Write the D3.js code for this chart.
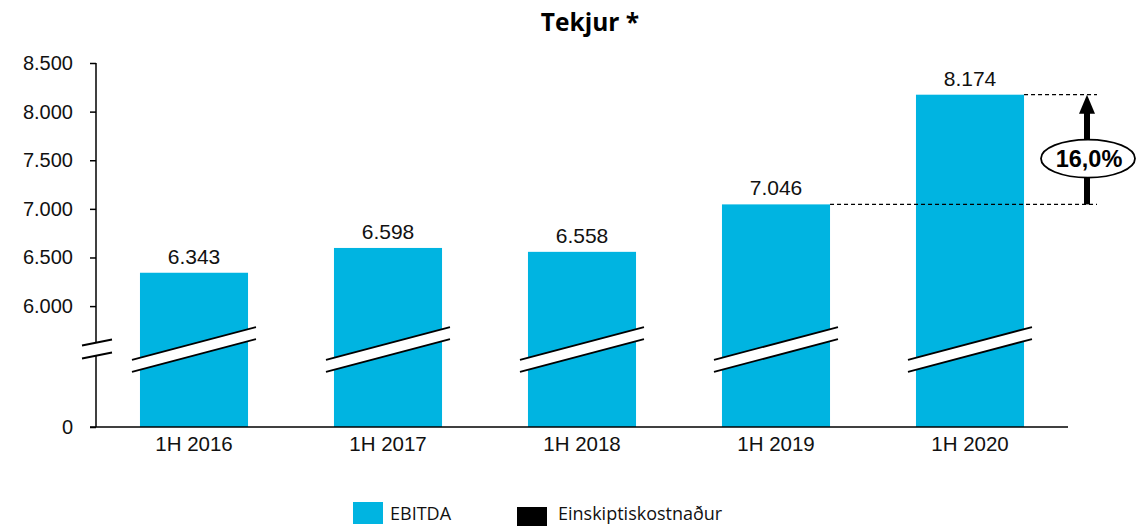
<!DOCTYPE html>
<html>
<head>
<meta charset="utf-8">
<script src="https://cdn.jsdelivr.net/npm/d3@7"></script>
<style>
  body { margin: 0; background: #fff; }
  svg { display: block; }
</style>
</head>
<body>
<svg width="1138" height="526"></svg>
<script>
// data
var periods = ["1H 2016", "1H 2017", "1H 2018", "1H 2019", "1H 2020"];
var revenue = [6343, 6598, 6558, 7046, 8174];
var yTicks = [0, 6000, 6500, 7000, 7500, 8000, 8500];
var growthLabel = "16,0%";
var legendNames = ["EBITDA", "Einskiptiskostnaður"];
var legendColors = ["#00b4e1", "#000000"];

var fmt = function(v) { return d3.format(",")(v).replace(/,/g, "."); };
var arial = "Arial, 'Liberation Sans', sans-serif";

var svg = d3.select("svg");

// broken axis: 0..5600 squeezed, 5600..8500 linear
var y = d3.scaleLinear()
    .domain([0, 5600, 8500])
    .range([427, 345, 63]);

var x = d3.scaleBand()
    .domain(periods)
    .range([97, 1067])
    .paddingInner(0.443)
    .paddingOuter(0.2215);

svg.append("text")
    .attr("x", 590).attr("y", 31)
    .attr("text-anchor", "middle")
    .style("font-family", "'Open Sans', sans-serif")
    .style("font-weight", "bold")
    .style("font-size", "24.5px")
    .text("Tekjur *");

// bars
svg.selectAll("rect.bar")
    .data(revenue)
    .enter().append("rect")
    .attr("class", "bar")
    .attr("x", function(d, i) { return x(periods[i]); })
    .attr("y", function(d) { return y(d); })
    .attr("width", x.bandwidth())
    .attr("height", function(d) { return y(0) - y(d); })
    .attr("fill", legendColors[0]);

// value labels
svg.selectAll("text.val")
    .data(revenue)
    .enter().append("text")
    .attr("class", "val")
    .attr("x", function(d, i) { return x(periods[i]) + x.bandwidth() / 2; })
    .attr("y", function(d) { return y(d) - 9; })
    .attr("text-anchor", "middle")
    .style("font-family", arial)
    .style("font-size", "21px")
    .style("fill", "#111")
    .text(fmt);

// y axis
var yAxis = svg.append("g")
    .attr("transform", "translate(96,0)")
    .call(d3.axisLeft(y).tickValues(yTicks).tickSize(6).tickPadding(17).tickFormat(fmt));
yAxis.select(".domain").remove();
yAxis.selectAll(".tick line").attr("stroke", "#000").attr("stroke-width", 1.5);
yAxis.selectAll(".tick text").style("font-family", arial).style("font-size", "20px").style("fill", "#111");
yAxis.append("line").attr("x1", 0).attr("x2", 0).attr("y1", y(8500)).attr("y2", 342).attr("stroke", "#000").attr("stroke-width", 1.5);
yAxis.append("line").attr("x1", 0).attr("x2", 0).attr("y1", 356).attr("y2", y(0)).attr("stroke", "#000").attr("stroke-width", 1.5);

// axis break marks
function breakMark(cx, cy, half, slope, gap) {
  var g = svg.append("g");
  g.append("polygon")
    .attr("points", [
      [cx - half, cy + half * slope - gap / 2],
      [cx + half, cy - half * slope - gap / 2],
      [cx + half, cy - half * slope + gap / 2],
      [cx - half, cy + half * slope + gap / 2]].join(" "))
    .attr("fill", "#fff");
  [-gap / 2, gap / 2].forEach(function(o) {
    g.append("line")
      .attr("x1", cx - half).attr("y1", cy + half * slope + o)
      .attr("x2", cx + half).attr("y2", cy - half * slope + o)
      .attr("stroke", "#000").attr("stroke-width", 1.8);
  });
}
breakMark(97, 349, 15, 0.2, 13);
periods.forEach(function(p) {
  breakMark(x(p) + x.bandwidth() / 2, 349.5, 62, 0.266, 12);
});

// x axis
var xAxis = svg.append("g")
    .attr("transform", "translate(0," + y(0) + ")")
    .call(d3.axisBottom(x).tickSize(0).tickPadding(9));
xAxis.select(".domain").attr("d", "M90,0H1068").attr("stroke", "#000").attr("stroke-width", 1.5);
xAxis.selectAll(".tick text").style("font-family", arial).style("font-size", "20.5px").style("fill", "#111");

// growth annotation
var aX = 1087;
var yLow = y(revenue[3]), yHigh = y(revenue[4]);
svg.append("line")
    .attr("x1", x(periods[3]) + x.bandwidth()).attr("x2", 1097)
    .attr("y1", yLow).attr("y2", yLow)
    .attr("stroke", "#000").attr("stroke-width", 1.2).attr("stroke-dasharray", "4,3");
svg.append("line")
    .attr("x1", x(periods[4]) + x.bandwidth()).attr("x2", 1097)
    .attr("y1", yHigh).attr("y2", yHigh)
    .attr("stroke", "#000").attr("stroke-width", 1.2).attr("stroke-dasharray", "4,3");
svg.append("line")
    .attr("x1", aX).attr("x2", aX)
    .attr("y1", yLow).attr("y2", yHigh + 16)
    .attr("stroke", "#000").attr("stroke-width", 6);
svg.append("path")
    .attr("d", "M" + aX + "," + yHigh + "L" + (aX + 8) + "," + (yHigh + 19) + "L" + (aX - 8) + "," + (yHigh + 19) + "Z")
    .attr("fill", "#000");
var midY = (yLow + yHigh) / 2 + 9;
svg.append("ellipse")
    .attr("cx", aX + 1).attr("cy", midY)
    .attr("rx", 47).attr("ry", 19)
    .attr("fill", "#fff").attr("stroke", "#000").attr("stroke-width", 1.8);
svg.append("text")
    .attr("x", aX + 2).attr("y", midY + 8.5)
    .attr("text-anchor", "middle")
    .style("font-family", arial)
    .style("font-weight", "bold")
    .style("font-size", "23.5px")
    .text(growthLabel);

// legend
var legendX = [353, 517];
var legendY = [502, 507];
legendNames.forEach(function(name, i) {
  svg.append("rect")
    .attr("x", legendX[i]).attr("y", legendY[i])
    .attr("width", 30).attr("height", 22)
    .attr("fill", legendColors[i]);
  svg.append("text")
    .attr("x", legendX[i] + (i ? 41 : 37)).attr("y", 520)
    .style("font-family", "'Open Sans', sans-serif")
    .style("font-size", "18px")
    .style("fill", "#111")
    .text(name);
});
</script>
</body>
</html>
